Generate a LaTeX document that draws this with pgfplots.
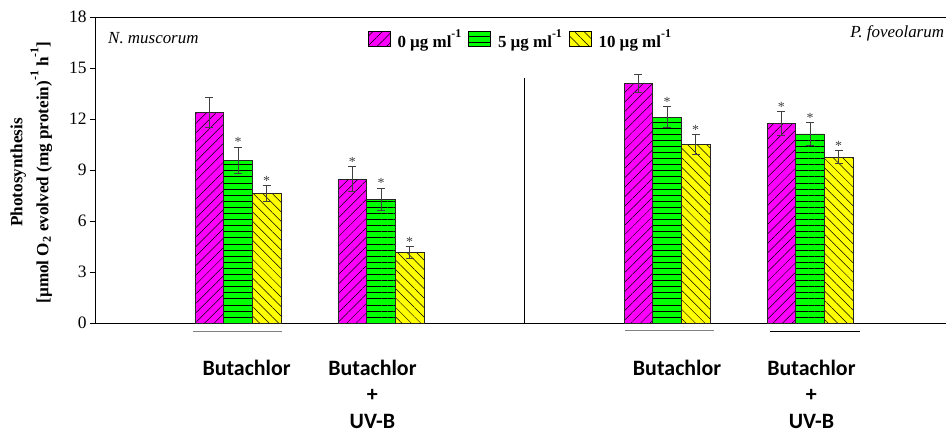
\documentclass[border=0pt]{standalone}
\usepackage{fontspec}
\setmainfont{Liberation Serif}
\newfontfamily\carlito{Carlito}
\usepackage{pgfplots}
\pgfplotsset{compat=1.18}
\usetikzlibrary{patterns.meta}
\definecolor{mag}{HTML}{FF00FF}
\definecolor{grn}{HTML}{00FF00}
\definecolor{yel}{HTML}{FFFF00}
\definecolor{errc}{HTML}{404040}
\newcommand\lsup[1]{\raisebox{10.5bp}{\fontsize{12}{12}\selectfont #1}}
\newcommand\ysup[1]{\raisebox{10bp}{\fontsize{12}{12}\selectfont #1}}
\begin{document}
\begin{tikzpicture}
\clip (-95bp,-110bp) rectangle (851bp,323bp);
\begin{axis}[
  scale only axis, width=851bp, height=306bp,
  xmin=0, xmax=5.951, ymin=0, ymax=18,
  axis lines=left, axis line style={-, line width=0.8bp},
  ytick={0,3,...,18}, tick align=outside, major tick length=5bp,
  ytick pos=left,
  y tick style={line width=0.8bp, black},
  yticklabel style={font=\fontsize{17.5}{17.5}\selectfont},
  /pgf/number format/assume math mode=true,
  xtick={1.06,1.94,4.07,5.01},
  xticklabels={Butachlor, Butachlor\\+\\UV-B, Butachlor, Butachlor\\+\\UV-B},
  xticklabel style={font=\carlito\bfseries\fontsize{22}{26.5}\selectfont, align=center, anchor=north, inner sep=0pt, yshift=-32bp},
  x tick style={draw=none},
  clip=false,
  legend columns=3,
  legend image code/.code={\draw[#1, draw=black, line width=0.6bp] (0bp,-7.5bp) rectangle (22bp,7.5bp);},
  legend style={draw=none, fill=none, at={(axis cs:1.907,16.69)}, anchor=west, inner sep=0pt,
    nodes={inner sep=0bp},
    /tikz/every odd column/.append style={column sep=7bp},
    /tikz/every even column/.append style={column sep=7bp},
    font=\bfseries\fontsize{17}{17}\selectfont},
]
\addplot[ybar, bar width=0.2, bar shift=0pt, fill=mag, draw=black!85, line width=0.6bp,
  postaction={pattern={Lines[angle=45,distance=6.7bp,line width=0.5bp]}, pattern color=black},
  error bars/.cd, y dir=both, y explicit,
  error bar style={errc, line width=0.8bp},
  error mark options={errc, rotate=90, mark size=4bp, line width=0.8bp}]
  coordinates {(0.8,12.39) +- (0,0.86) (1.8,8.47) +- (0,0.73) (3.8,14.10) +- (0,0.53) (4.8,11.74) +- (0,0.71)};
\addlegendentry{0 µg ml\lsup{-1}}
\addplot[ybar, bar width=0.2, bar shift=0pt, fill=grn, draw=black!85, line width=0.6bp,
  postaction={pattern={Lines[angle=0,distance=6.1bp,line width=0.7bp]}, pattern color=black},
  error bars/.cd, y dir=both, y explicit,
  error bar style={errc, line width=0.8bp},
  error mark options={errc, rotate=90, mark size=4bp, line width=0.8bp}]
  coordinates {(1.0,9.57) +- (0,0.78) (2.0,7.29) +- (0,0.65) (4.0,12.10) +- (0,0.62) (5.0,11.12) +- (0,0.69)};
\addlegendentry{5 µg ml\lsup{-1}}
\addplot[ybar, bar width=0.2, bar shift=0pt, fill=yel, draw=black!85, line width=0.6bp,
  postaction={pattern={Lines[angle=-45,distance=6.7bp,line width=0.5bp]}, pattern color=black},
  error bars/.cd, y dir=both, y explicit,
  error bar style={errc, line width=0.8bp},
  error mark options={errc, rotate=90, mark size=4bp, line width=0.8bp}]
  coordinates {(1.2,7.63) +- (0,0.45) (2.2,4.14) +- (0,0.35) (4.2,10.49) +- (0,0.59) (5.2,9.75) +- (0,0.39)};
\addlegendentry{10 µg ml\lsup{-1}}
% significance asterisks above error bars
\addplot[draw=none, mark=none, forget plot, nodes near coords={*},
  every node near coord/.style={font=\fontsize{14}{14}\selectfont, text=errc, anchor=south, inner sep=0pt}]
  coordinates {(1.8,9.20) (4.8,12.45) (1.0,10.35) (2.0,7.94) (4.0,12.72) (5.0,11.81) (1.2,8.08) (2.2,4.49) (4.2,11.08) (5.2,10.14)};
\draw[gray, line width=0.8bp] (axis cs:0.685,-0.47) -- (axis cs:1.308,-0.47);
\draw[gray, line width=0.8bp] (axis cs:3.706,-0.41) -- (axis cs:4.329,-0.41);
\draw[black, line width=0.8bp] (axis cs:4.72,-0.47) -- (axis cs:5.35,-0.47);
\draw[line width=0.8bp] (axis cs:3,0) -- (axis cs:3,14.41);
\draw[line width=0.8bp] (axis cs:0,18) -- (axis cs:5.951,18);
\node[anchor=base west, font=\itshape\fontsize{17}{17}\selectfont, inner sep=0pt] at (axis cs:0.091,16.47) {N. muscorum};
\node[anchor=base west, font=\itshape\fontsize{17}{17}\selectfont, inner sep=0pt] at (axis cs:5.28,16.82) {P. foveolarum};
\node[rotate=90, align=center, font=\bfseries\fontsize{17.2}{26}\selectfont] at (axis cs:-0.445,8.85)
  {Photosynthesis\\{}[µmol O\textsubscript{2} evolved (mg protein)\ysup{-1} h\ysup{-1}]};
\end{axis}
\end{tikzpicture}
\end{document}
